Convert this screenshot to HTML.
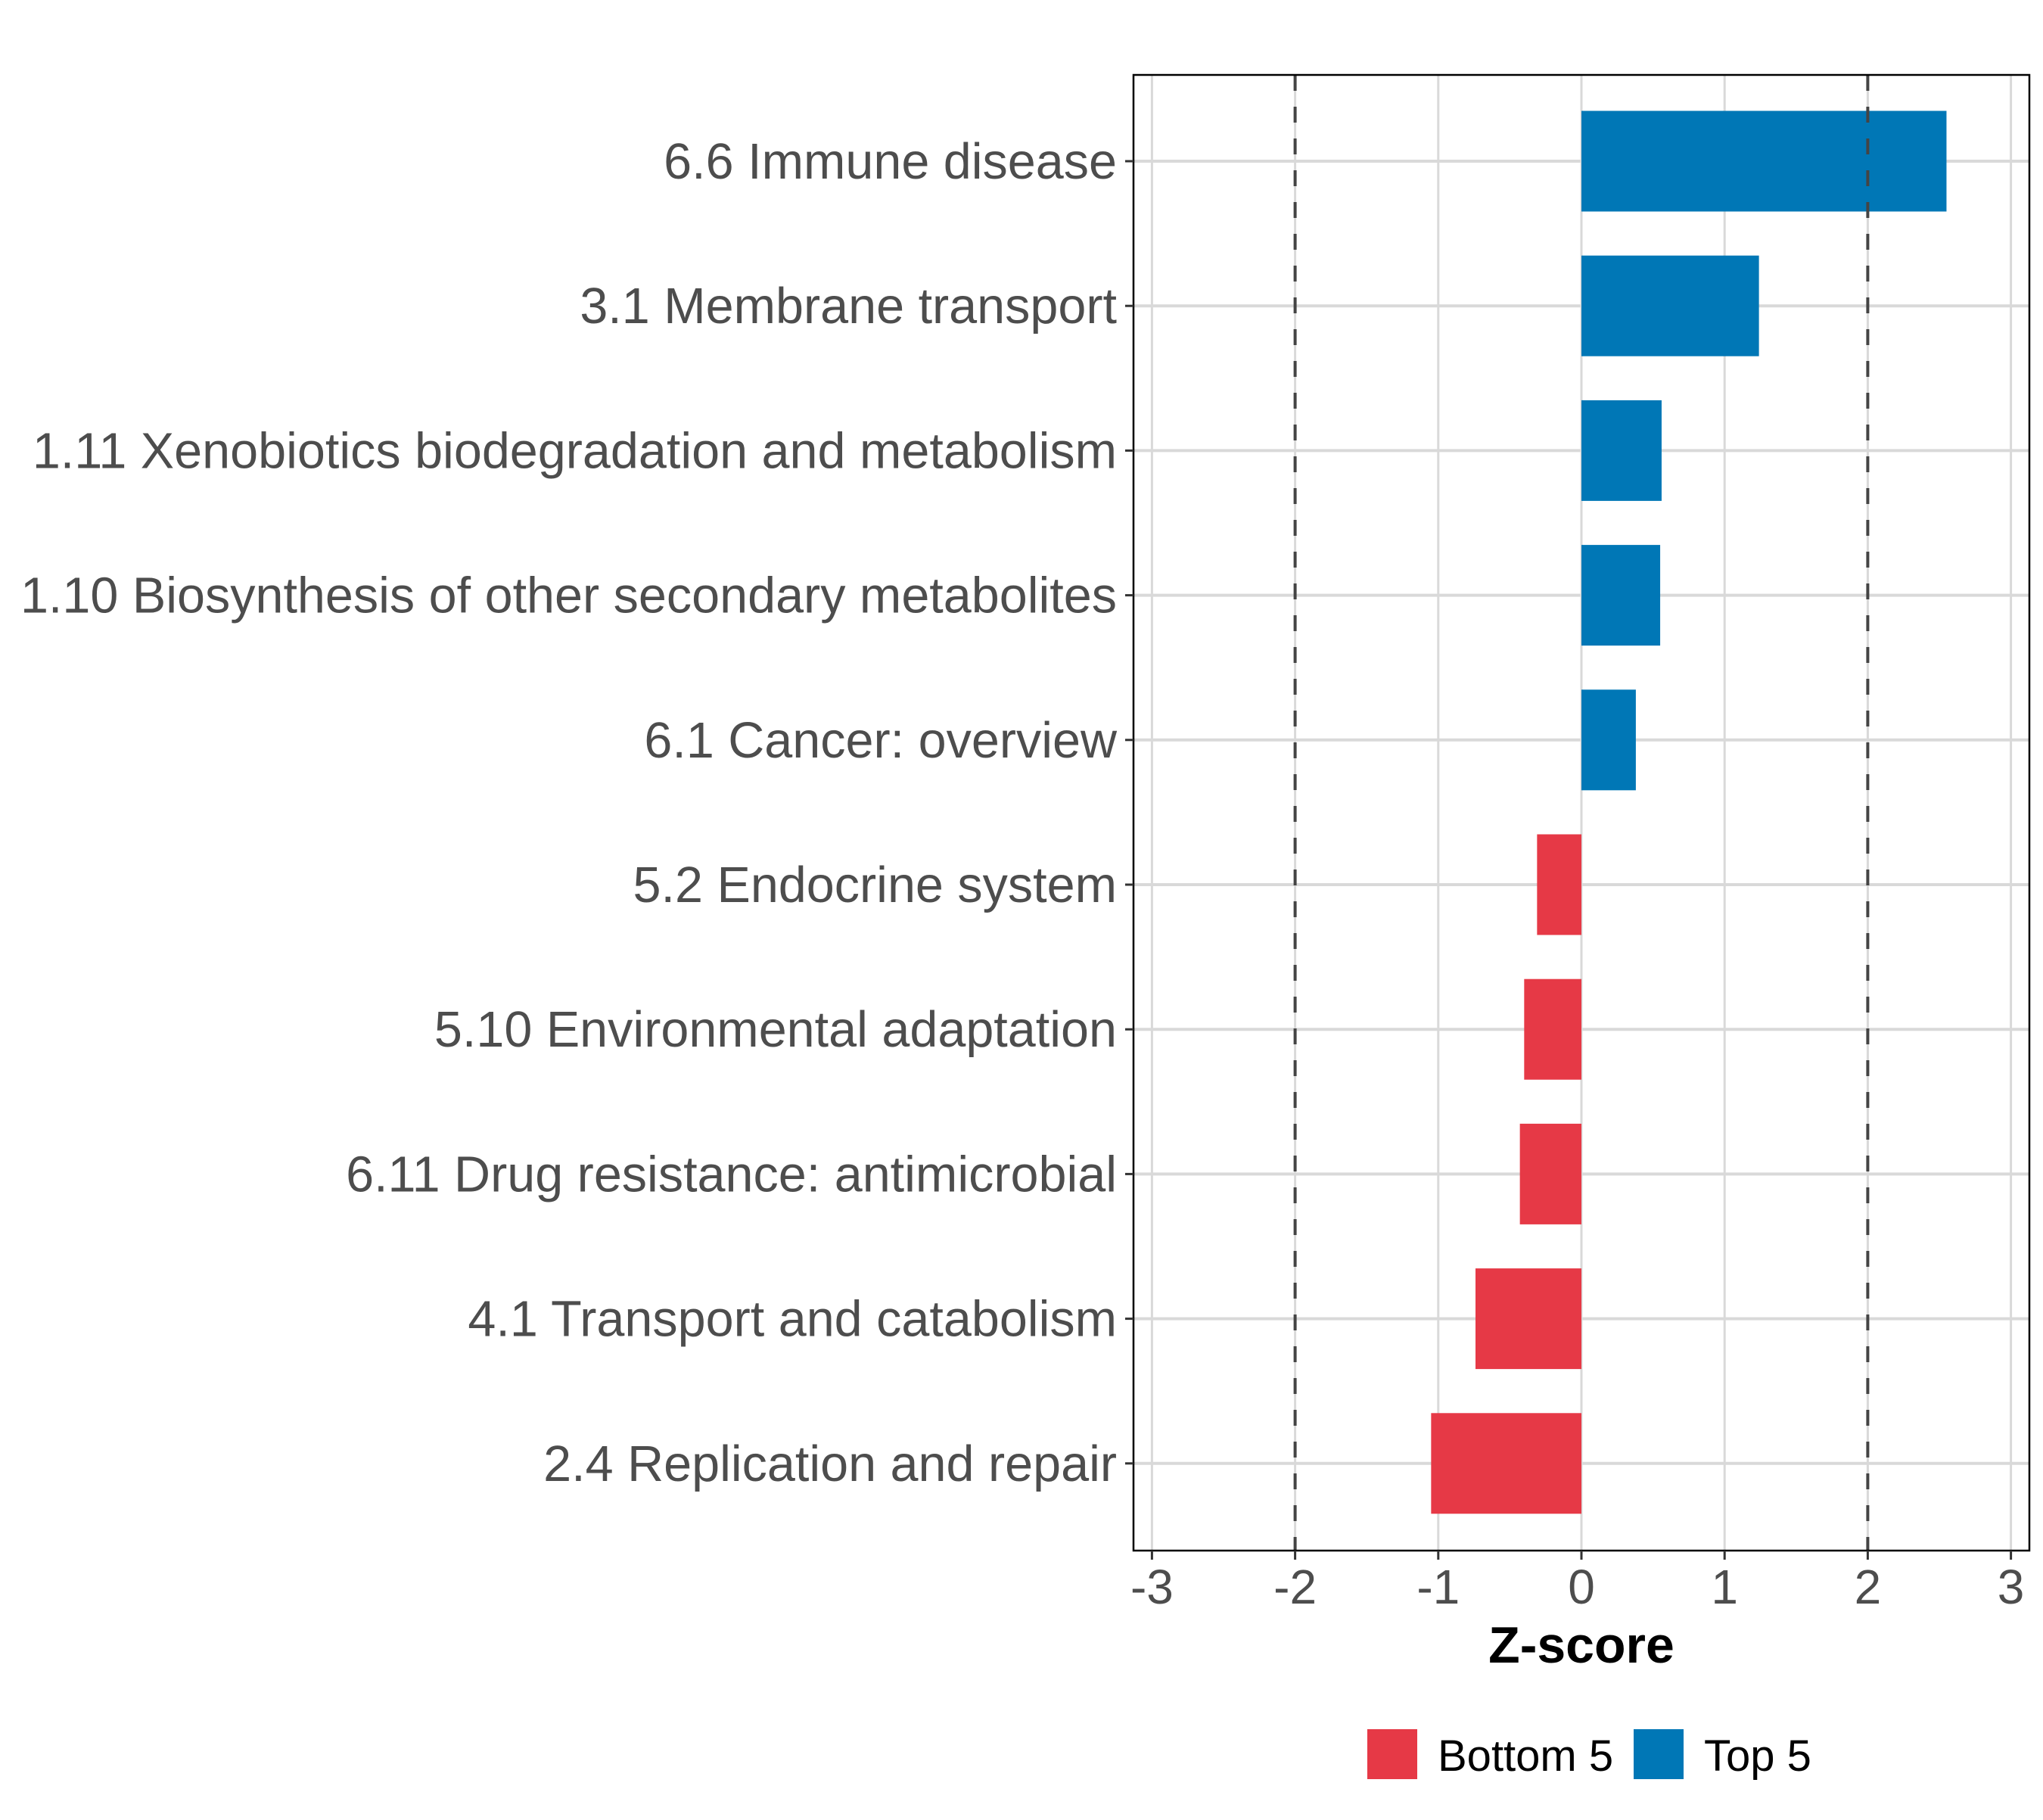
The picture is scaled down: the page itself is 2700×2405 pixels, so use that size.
<!DOCTYPE html>
<html><head><meta charset="utf-8"><style>
html,body{margin:0;padding:0;background:#fff}
svg text{font-family:"Liberation Sans",Arial,sans-serif}
</style></head><body>
<svg id="chart" width="2700" height="2400" viewBox="0 0 2700 2400" xmlns="http://www.w3.org/2000/svg">
<g id="grid"></g>
<g id="bars"></g>
<g id="refs"></g>
<rect x="1498" y="99" width="1184" height="1950" fill="none" stroke="#000" stroke-width="2.5"/>
<g id="yaxis"></g>
<g id="xaxis"></g>
<text x="2090" y="2197" font-size="68" font-weight="bold" text-anchor="middle" fill="#000">Z-score</text>
<g>
<rect x="1807" y="2285" width="66" height="66" fill="#E63946"/>
<text x="1900" y="2340" font-size="58" fill="#000">Bottom 5</text>
<rect x="2159" y="2285" width="66" height="66" fill="#0077B6"/>
<text x="2252" y="2340" font-size="58" fill="#000">Top 5</text>
</g>
</svg>
<script>
const categories = ["6.6 Immune disease","3.1 Membrane transport","1.11 Xenobiotics biodegradation and metabolism","1.10 Biosynthesis of other secondary metabolites","6.1 Cancer: overview","5.2 Endocrine system","5.10 Environmental adaptation","6.11 Drug resistance: antimicrobial","4.1 Transport and catabolism","2.4 Replication and repair"];
const values = [2.55, 1.24, 0.56, 0.55, 0.38, -0.31, -0.40, -0.43, -0.74, -1.05];
const groups = ["Top 5","Top 5","Top 5","Top 5","Top 5","Bottom 5","Bottom 5","Bottom 5","Bottom 5","Bottom 5"];
const xTicks = [-3,-2,-1,0,1,2,3];
const xTickLabels = ["-3","-2","-1","0","1","2","3"];
const refLines = [-2, 2];

const NS = "http://www.w3.org/2000/svg";
const X0 = 2090, UNIT = 189.2, PL = 1498, PR = 2682, PT = 99, PB = 2049;
const Y0 = 213, STEP = 191.2, BH = 133;
const xs = v => X0 + v * UNIT;
const ys = i => Y0 + i * STEP;
const colors = {"Top 5":"#0077B6","Bottom 5":"#E63946"};
function mk(tag, attrs, parent){const e=document.createElementNS(NS,tag);for(const k in attrs)e.setAttribute(k,attrs[k]);parent.appendChild(e);return e;}
const grid=document.getElementById('grid'),bars=document.getElementById('bars'),refs=document.getElementById('refs'),yax=document.getElementById('yaxis'),xax=document.getElementById('xaxis');

xTicks.forEach((t,i)=>{
  const l=mk('line',{x1:xs(t),x2:xs(t),y1:PT,y2:PB,stroke:'#d9d9d9','stroke-width':3},grid);
  
  
  const tk=mk('line',{x1:xs(t),x2:xs(t),y1:PB,y2:PB+12,stroke:'#333','stroke-width':3},xax);
  
  
  const tx=mk('text',{x:xs(t),y:2119,'font-size':64,'text-anchor':'middle',fill:'#4d4d4d'},xax);
  tx.textContent=xTickLabels[i];
  
  
});
categories.forEach((c,i)=>{
  const y=ys(i);
  const g=mk('line',{x1:PL,x2:PR,y1:y,y2:y,stroke:'#d9d9d9','stroke-width':4},grid);
  
  
  const v=values[i];
  const r=mk('rect',{x:Math.min(xs(0),xs(v)),y:y-BH/2,width:Math.abs(xs(v)-xs(0)),height:BH,fill:colors[groups[i]]},bars);
  
  
  const tk=mk('line',{x1:PL-11,x2:PL,y1:y,y2:y,stroke:'#333','stroke-width':3},yax);
  
  
  const tx=mk('text',{x:1476,y:y+23,'font-size':66.5,'text-anchor':'end',fill:'#4d4d4d'},yax);
  tx.textContent=c;
  
  
});
refLines.forEach(r=>{
  const l=mk('line',{x1:xs(r),x2:xs(r),y1:PT,y2:PB,stroke:'#444','stroke-width':4,'stroke-dasharray':'21,21'},refs);
  
  
});
</script>
</body></html>
